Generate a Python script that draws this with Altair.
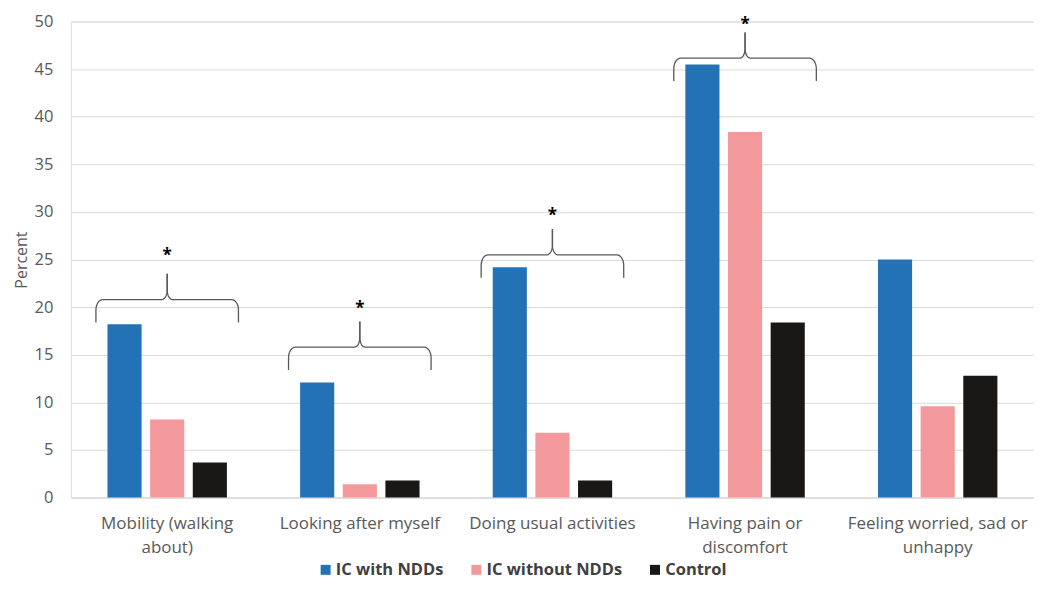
import altair as alt
import pandas as pd
import numpy as np

categories = ["Mobility (walking about)", "Looking after myself", "Doing usual activities",
              "Having pain or discomfort", "Feeling worried, sad or unhappy"]
label_lines = [["Mobility (walking", "about)"], ["Looking after myself"], ["Doing usual activities"],
               ["Having pain or", "discomfort"], ["Feeling worried, sad or", "unhappy"]]
series = ["IC with NDDs", "IC without NDDs", "Control"]
ic_with = [18.2, 12.1, 24.2, 45.5, 25.0]
ic_without = [8.2, 1.4, 6.8, 38.4, 9.6]
control = [3.7, 1.8, 1.8, 18.4, 12.8]
colors = ["#2372b5", "#f4999b", "#1a1717"]

# significance braces (category index, level of horizontal stroke, star centre)
brace_index = [0, 1, 2, 3]
brace_level = [20.8, 15.8, 25.5, 46.15]
star_y = [25.8, 20.25, 29.96, 50.1]
brace_half = 0.37
brace_depth = 2.4
brace_peak = 2.7

rows = []
for s, vals in zip(series, [ic_with, ic_without, control]):
    for c, v in zip(categories, vals):
        rows.append({"category": c, "series": s, "value": v})
df = pd.DataFrame(rows)

# brace outline points
brows = []
t1 = np.linspace(np.pi, np.pi / 2, 8)
t2 = np.linspace(-np.pi / 2, 0, 8)
rx1, ry1, rx2, ry2 = 0.036, 1.1, 0.028, 1.0
for bi, lvl in zip(brace_index, brace_level):
    c = bi + 0.5
    for side, sgn in (("L", 1), ("R", -1)):
        pts = [(c - sgn * brace_half, lvl - brace_depth)]
        cx, cy = c - sgn * brace_half + sgn * rx1, lvl - ry1
        pts += [(cx + sgn * rx1 * np.cos(t), cy + ry1 * np.sin(t)) for t in t1]
        cx, cy = c - sgn * rx2, lvl + ry2
        pts += [(cx + sgn * rx2 * np.cos(t), cy + ry2 * np.sin(t)) for t in t2]
        pts.append((c, lvl + brace_peak))
        for k, (x, y) in enumerate(pts):
            brows.append({"id": f"{bi}{side}", "k": k, "x": float(x), "y": float(y)})
bdf = pd.DataFrame(brows)
sdf = pd.DataFrame({"x": [i + 0.5 for i in brace_index], "y": star_y, "t": ["*"] * len(brace_index)})

expr = "''"
for c, lines in reversed(list(zip(categories, label_lines))):
    arr = "[" + ",".join("'" + l + "'" for l in lines) + "]"
    expr = f"datum.value == '{c}' ? {arr} : ({expr})"

yscale = alt.Scale(domain=[0, 50], nice=False)

bars = alt.Chart(df).mark_bar().encode(
    x=alt.X("category:N", sort=categories,
            scale=alt.Scale(paddingInner=0.38, paddingOuter=0.19),
            axis=alt.Axis(title=None, labelAngle=0, labelExpr=expr, labelBaseline="top",
                          labelPadding=18, labelLineHeight=24, labelLimit=400,
                          labelOverlap=False, labelBound=False, ticks=False,
                          domain=True, domainColor="#d9d9d9", grid=False,
                          labelFont="Open Sans", labelFontSize=17, labelColor="#595959")),
    xOffset=alt.XOffset("series:N", sort=series, scale=alt.Scale(paddingInner=0.2)),
    y=alt.Y("value:Q", scale=yscale,
            axis=alt.Axis(title="Percent", values=list(range(0, 51, 5)), ticks=False,
                          domain=False, grid=True, gridColor="#d9d9d9", labelPadding=18,
                          labelFont="Open Sans", labelFontSize=16.5, labelColor="#595959",
                          titleFont="Open Sans", titleFontSize=16, titleColor="#595959",
                          titleFontWeight="normal", titlePadding=5)),
    color=alt.Color("series:N", sort=series,
                    scale=alt.Scale(domain=series, range=colors),
                    legend=alt.Legend(title=None, orient="none", direction="horizontal",
                                      legendX=247, legendY=541, symbolType="square",
                                      symbolSize=100, symbolStrokeWidth=0,
                                      labelFont="Open Sans", labelFontSize=16.5,
                                      labelFontWeight="bold", labelColor="#404040",
                                      labelOffset=2, columnPadding=24)),
)

xq = alt.Scale(domain=[0, 5], nice=False, zero=False)
braces = alt.Chart(bdf).mark_line(color="#595959", strokeWidth=1.3).encode(
    x=alt.X("x:Q", scale=xq, axis=None),
    y=alt.Y("y:Q", scale=yscale),
    detail="id:N",
    order="k:Q",
)
stars = alt.Chart(sdf).mark_text(font="Open Sans", fontSize=17, fontWeight="bold",
                                 color="#000000", baseline="middle", dy=4).encode(
    x=alt.X("x:Q", scale=xq, axis=None),
    y=alt.Y("y:Q", scale=yscale),
    text="t:N",
)

chart = alt.layer(bars, braces, stars).resolve_scale(x="independent").properties(
    width=965, height=477,
    autosize=alt.AutoSizeParams(type="none"),
    padding={"left": 63, "top": 13, "right": 0, "bottom": 85},
).configure_view(stroke=None).configure(background="white")

chart.save("out.html", embed_options={"renderer": "svg", "actions": False})
